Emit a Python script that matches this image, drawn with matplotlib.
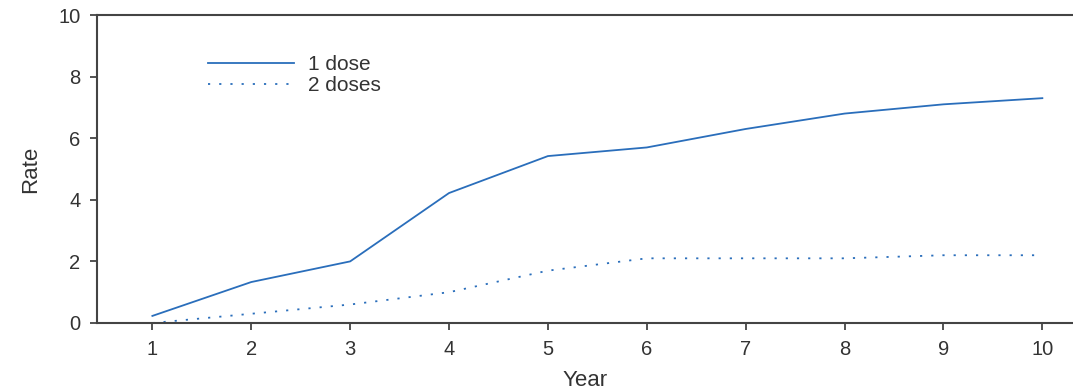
import matplotlib.pyplot as plt

plt.rcParams["font.family"] = ["Liberation Sans", "DejaVu Sans"]

years = [1, 2, 3, 4, 5, 6, 7, 8, 9, 10]
rate_one_dose = [0.23, 1.33, 2.0, 4.22, 5.42, 5.7, 6.3, 6.8, 7.1, 7.3]
rate_two_doses = [0.0, 0.3, 0.6, 1.0, 1.7, 2.1, 2.1, 2.1, 2.2, 2.2]

BLUE = "#2a6ebb"
AXIS = "#444444"

fig = plt.figure(figsize=(10.73, 3.9), dpi=100)
ax = fig.add_axes([0.0904, 0.1718, 0.9096, 0.7897])

ax.plot(years, rate_one_dose, color=BLUE, lw=1.3, label="1 dose")
ax.plot(years, rate_two_doses, color=BLUE, lw=1.3, linestyle=(0, (1.2, 5)),
        label="2 doses")

ax.set_xlim(0.44, 10.31)
ax.set_ylim(0, 10)
ax.set_xticks(years)
ax.set_yticks([0, 2, 4, 6, 8, 10])

for side in ("left", "bottom", "top"):
    ax.spines[side].set_color(AXIS)
    ax.spines[side].set_linewidth(1.5)
ax.spines["right"].set_visible(False)

ax.tick_params(axis="both", direction="out", length=5, width=1.3,
               color=AXIS, labelsize=14.5, labelcolor="#333333", pad=7)

ax.set_xlabel("Year", fontsize=16, color="#333333", labelpad=8)
ax.set_ylabel("Rate", fontsize=16, color="#333333", labelpad=12)

ax.legend(loc="upper left", bbox_to_anchor=(0.095, 0.93), frameon=False,
          fontsize=15, handlelength=4.1, handletextpad=0.7, labelspacing=0.1,
          labelcolor="#333333")

fig.savefig("out.png", dpi=100)
